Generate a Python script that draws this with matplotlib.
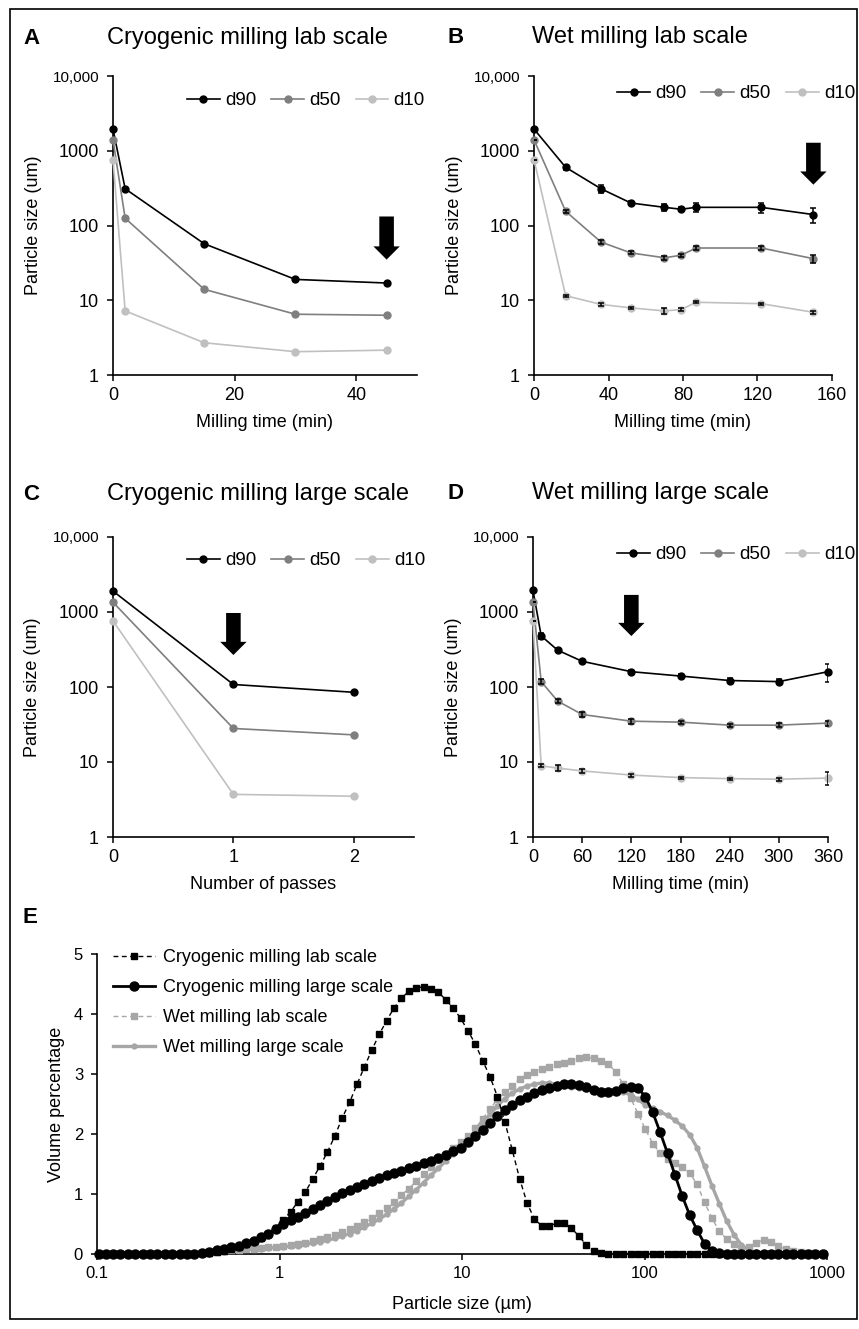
import numpy as np
import matplotlib.pyplot as plt
from matplotlib.patches import Rectangle
from matplotlib.ticker import NullLocator

plt.rcParams['font.family'] = ['Liberation Sans', 'DejaVu Sans']

# ---- panel A: cryogenic milling, lab scale ----
a_time = [0, 2, 15, 30, 45]
a_d90 = [1950, 310, 57, 19, 17]
a_d50 = [1400, 125, 14, 6.5, 6.3]
a_d10 = [760, 7.2, 2.7, 2.05, 2.15]

# ---- panel B: wet milling, lab scale ----
b_time = [0, 17, 36, 52, 70, 79, 87, 122, 150]
b_d90 = [1950, 600, 310, 200, 175, 165, 175, 175, 140]
b_d50 = [1400, 155, 60, 43, 37, 40, 50, 50, 36]
b_d10 = [760, 11.5, 8.8, 7.9, 7.2, 7.5, 9.4, 9.0, 6.9]
b_d90_err = [0, 50, 38, 12, 18, 10, 25, 27, 33]
b_d50_err = [0, 8, 4, 2, 2, 2, 3, 3, 4.5]
b_d10_err = [0, 0.4, 0.3, 0.2, 0.6, 0.3, 0.3, 0.3, 0.3]

# ---- panel C: cryogenic milling, large scale ----
c_passes = [0, 1, 2]
c_d90 = [1900, 108, 85]
c_d50 = [1350, 28, 23]
c_d10 = [760, 3.7, 3.5]

# ---- panel D: wet milling, large scale ----
d_time = [0, 10, 30, 60, 120, 180, 240, 300, 360]
d_d90 = [1950, 480, 310, 220, 160, 140, 122, 118, 160]
d_d50 = [1350, 118, 65, 43, 35, 34, 31, 31, 33]
d_d10 = [760, 8.9, 8.3, 7.6, 6.7, 6.2, 6.0, 5.9, 6.1]
d_d90_err = [0, 40, 20, 12, 10, 8, 8, 8, 45]
d_d50_err = [0, 10, 4, 3, 2.5, 1.5, 1.5, 2, 2.5]
d_d10_err = [0, 0.4, 0.7, 0.5, 0.3, 0.2, 0.2, 0.3, 1.2]

# arrows marking the selected condition (x, top, tip)
arrow_x = [45, 150, 1, 120]
arrow_top = [132, 1280, 970, 1690]
arrow_tip = [35, 352, 267, 478]

# ---- panel E: size distributions (instrument size classes, um) ----
sizes = [0.102, 0.112, 0.122, 0.134, 0.148, 0.162, 0.178, 0.195, 0.214, 0.235,
         0.258, 0.284, 0.311, 0.342,
         0.375, 0.412, 0.452, 0.496, 0.545, 0.598, 0.657, 0.721, 0.791, 0.869,
         0.953, 1.047, 1.149, 1.261, 1.385, 1.520, 1.669, 1.832, 2.011, 2.208,
         2.423, 2.660, 2.920, 3.206, 3.519, 3.863, 4.241, 4.656, 5.111, 5.611,
         6.159, 6.761, 7.422, 8.148, 8.944, 9.819, 10.78, 11.83, 12.99, 14.26,
         15.65, 17.18, 18.86, 20.71, 22.73, 24.95, 27.39, 30.07, 33.01, 36.24,
         39.78, 43.67, 47.94, 52.62, 57.77, 63.41, 69.61, 76.42, 83.89, 92.09,
         101.1, 111.0, 121.8, 133.7, 146.8, 161.2, 176.8, 194.2, 213.2, 234.1,
         256.9, 282.1, 309.6, 339.9, 373.1, 409.6, 449.7, 493.6, 541.9, 594.9,
         653.0, 716.9, 786.9, 863.9, 948.3]

cryo_lab = [0, 0, 0, 0, 0, 0, 0, 0, 0, 0, 0, 0, 0, 0,
            0.01, 0.02, 0.03, 0.05, 0.08, 0.12, 0.16, 0.21, 0.27, 0.34,
            0.43, 0.57, 0.70, 0.87, 1.03, 1.25, 1.47, 1.70, 1.97, 2.27,
            2.53, 2.83, 3.12, 3.40, 3.66, 3.89, 4.10, 4.26, 4.38, 4.44,
            4.45, 4.42, 4.36, 4.24, 4.10, 3.93, 3.72, 3.50, 3.22, 2.95,
            2.62, 2.20, 1.73, 1.25, 0.85, 0.58, 0.47, 0.47, 0.51, 0.52,
            0.43, 0.30, 0.15, 0.05, 0.01, 0, 0, 0, 0, 0,
            0, 0, 0, 0, 0, 0, 0, 0, 0, 0,
            0, 0, 0, 0, 0, 0, 0, 0, 0, 0,
            0, 0, 0, 0, 0]

cryo_large = [0, 0, 0, 0, 0, 0, 0, 0, 0, 0, 0, 0, 0, 0,
              0.02, 0.04, 0.06, 0.08, 0.11, 0.14, 0.18, 0.22, 0.28, 0.34,
              0.42, 0.50, 0.56, 0.62, 0.69, 0.75, 0.82, 0.89, 0.95, 1.01,
              1.07, 1.12, 1.17, 1.22, 1.27, 1.31, 1.35, 1.39, 1.43, 1.47,
              1.51, 1.55, 1.60, 1.65, 1.71, 1.77, 1.87, 1.96, 2.07, 2.18,
              2.30, 2.40, 2.49, 2.56, 2.62, 2.68, 2.73, 2.77, 2.80, 2.83,
              2.83, 2.81, 2.78, 2.73, 2.70, 2.70, 2.72, 2.77, 2.79, 2.77,
              2.62, 2.36, 2.03, 1.68, 1.32, 0.96, 0.65, 0.40, 0.17, 0.05,
              0.01, 0, 0, 0, 0, 0, 0, 0, 0, 0,
              0, 0, 0, 0, 0]

# wet milling series start at the 0.375 um class
wet_lab = [0.02, 0.03, 0.04, 0.05, 0.06, 0.07, 0.08, 0.09, 0.10, 0.11,
           0.12, 0.13, 0.15, 0.17, 0.19, 0.22, 0.25, 0.28, 0.32, 0.36,
           0.41, 0.47, 0.53, 0.60, 0.68, 0.77, 0.87, 0.98, 1.09, 1.21,
           1.33, 1.45, 1.56, 1.66, 1.76, 1.86, 1.97, 2.10, 2.25, 2.42,
           2.58, 2.70, 2.80, 2.92, 2.99, 3.04, 3.08, 3.12, 3.16, 3.19,
           3.22, 3.26, 3.28, 3.26, 3.21, 3.17, 3.03, 2.83, 2.60, 2.34,
           2.08, 1.84, 1.68, 1.58, 1.51, 1.45, 1.35, 1.16, 0.86, 0.60,
           0.38, 0.25, 0.16, 0.10, 0.11, 0.19, 0.23, 0.20, 0.13, 0.08,
           0.05, 0.03, 0.02, 0.01, 0.01]

wet_large = [0.01, 0.02, 0.03, 0.04, 0.05, 0.06, 0.07, 0.08, 0.09, 0.10,
             0.11, 0.12, 0.13, 0.14, 0.16, 0.18, 0.20, 0.23, 0.26, 0.30,
             0.34, 0.39, 0.45, 0.51, 0.58, 0.66, 0.75, 0.85, 0.96, 1.07,
             1.19, 1.31, 1.43, 1.55, 1.67, 1.79, 1.92, 2.05, 2.19, 2.33,
             2.47, 2.59, 2.68, 2.75, 2.80, 2.83, 2.85, 2.85, 2.83, 2.80,
             2.78, 2.76, 2.75, 2.74, 2.74, 2.74, 2.73, 2.70, 2.65, 2.58,
             2.48, 2.43, 2.37, 2.31, 2.23, 2.13, 1.99, 1.77, 1.46, 1.14,
             0.84, 0.55, 0.32, 0.15, 0.06, 0.03, 0.02, 0.02, 0.01, 0.01,
             0.01, 0.01, 0.01, 0.01, 0.01]

W, H = 859, 1329
fig = plt.figure(figsize=(W / 100, H / 100), dpi=100)


def add_ax(l, t, r, b):
    # axes placed by pixel edges (left, top, right, bottom)
    return fig.add_axes([l / W, 1 - b / H, (r - l) / W, (b - t) / H])


def style_axes(ax):
    for s in ['top', 'right']:
        ax.spines[s].set_visible(False)
    for s in ['left', 'bottom']:
        ax.spines[s].set_linewidth(1.2)
    ax.tick_params(direction='out', length=4, width=1.1, labelsize=13)
    ax.tick_params(axis='y', pad=6)
    ax.tick_params(axis='x', pad=5)


cols = ['black', '#7f7f7f', '#c0c0c0']
names = ['d90', 'd50', 'd10']


def size_panel(ax, x, series, errs, xlim, xticks, xlabel, legpos, ylab_x):
    for vals, col, lab in zip(series, cols, names):
        ax.plot(x, vals, '-o', color=col, lw=1.2, ms=5, label=lab, zorder=3, clip_on=False)
    if errs is not None:
        for vals, e in zip(series, errs):
            ax.errorbar(x, vals, yerr=e, fmt='none', ecolor='black', elinewidth=1.1,
                        capsize=2.5, capthick=1.1, zorder=4)
    ax.set_yscale('log')
    ax.set_ylim(1, 10000)
    ax.set_yticks([1, 10, 100, 1000, 10000])
    ax.set_yticklabels(['1', '10', '100', '1000', '10,000'])
    ax.yaxis.set_minor_locator(NullLocator())
    ax.set_xlim(*xlim)
    ax.set_xticks(xticks)
    style_axes(ax)
    ax.get_yticklabels()[-1].set_fontsize(11)
    ax.set_xlabel(xlabel, fontsize=13)
    ax.xaxis.set_label_coords(0.5, -0.13)
    ax.set_ylabel('Particle size (um)', fontsize=13)
    ax.yaxis.set_label_coords(ylab_x, 0.5)
    ax.yaxis.label.set_verticalalignment('center')
    ax.legend(loc='upper left', bbox_to_anchor=legpos, ncol=3, frameon=False,
              fontsize=13.5, handlelength=1.75, handletextpad=0.28, columnspacing=0.8,
              borderpad=0, borderaxespad=0)


def add_arrow(ax, i):
    ax.annotate('', xy=(arrow_x[i], arrow_tip[i]), xytext=(arrow_x[i], arrow_top[i]),
                arrowprops=dict(arrowstyle='simple,head_length=0.95,head_width=1.9,tail_width=1.05',
                                fc='black', ec='black', lw=0, shrinkA=0, shrinkB=0,
                                mutation_scale=10), zorder=5)


axA = add_ax(113, 76, 417, 375)
size_panel(axA, a_time, [a_d90, a_d50, a_d10], None, (0, 50), [0, 20, 40],
           'Milling time (min)', (0.243, 0.946), -0.263)
add_arrow(axA, 0)

axB = add_ax(534, 76, 832, 375)
size_panel(axB, b_time, [b_d90, b_d50, b_d10], [b_d90_err, b_d50_err, b_d10_err],
           (0, 160), [0, 40, 80, 120, 160], 'Milling time (min)', (0.279, 0.970), -0.268)
add_arrow(axB, 1)

axC = add_ax(113, 537, 414, 837)
size_panel(axC, c_passes, [c_d90, c_d50, c_d10], None, (0, 2.5), [0, 1, 2],
           'Number of passes', (0.246, 0.950), -0.266)
add_arrow(axC, 2)

axD = add_ax(533, 537, 828, 837)
size_panel(axD, d_time, [d_d90, d_d50, d_d10], [d_d90_err, d_d50_err, d_d10_err],
           (0, 360), [0, 60, 120, 180, 240, 300, 360], 'Milling time (min)', (0.285, 0.970), -0.268)
add_arrow(axD, 3)

# ---- panel E ----
axE = add_ax(97, 954, 827, 1254)
grey = '#a6a6a6'
axE.plot(sizes, cryo_lab, color='black', lw=1.0, ls=(0, (3.5, 2.5)), marker='s', ms=4.5,
         label='Cryogenic milling lab scale', zorder=5, clip_on=False)
axE.plot(sizes, cryo_large, color='black', lw=2.0, marker='o', ms=6.5,
         label='Cryogenic milling large scale', zorder=4, clip_on=False)
axE.plot(sizes[14:], wet_lab, color=grey, lw=1.0, ls=(0, (3.5, 2.5)), marker='s', ms=4.5,
         label='Wet milling lab scale', zorder=3, clip_on=False)
axE.plot(sizes[14:], wet_large, color=grey, lw=2.4, marker='o', ms=3.5,
         label='Wet milling large scale', zorder=2, clip_on=False)
axE.set_xscale('log')
axE.set_xlim(0.1, 1000)
axE.set_ylim(0, 5)
axE.set_xticks([0.1, 1, 10, 100, 1000])
axE.set_xticklabels(['0.1', '1', '10', '100', '1000'])
axE.xaxis.set_minor_locator(NullLocator())
axE.set_yticks([0, 1, 2, 3, 4, 5])
style_axes(axE)
axE.tick_params(labelsize=12)
axE.set_xlabel('Particle size (\u00b5m)', fontsize=13)
axE.xaxis.set_label_coords(0.5, -0.14)
axE.set_ylabel('Volume percentage', fontsize=13)
axE.yaxis.set_label_coords(-0.055, 0.5)
axE.yaxis.label.set_verticalalignment('center')
axE.legend(loc='upper left', bbox_to_anchor=(0.022, 1.017), frameon=False, fontsize=13,
           handlelength=2.3, handletextpad=0.45, labelspacing=0.72, borderpad=0, borderaxespad=0)

# ---- titles and panel letters ----
titles = [('A', 23, 44, 'Cryogenic milling lab scale', 107),
          ('B', 448, 43, 'Wet milling lab scale', 532),
          ('C', 23, 500, 'Cryogenic milling large scale', 107),
          ('D', 448, 499, 'Wet milling large scale', 532)]
for letter, lx, by, title, tx in titles:
    fig.text(lx / W, 1 - by / H, letter, fontsize=16, fontweight='bold', va='baseline')
    fig.text(tx / W, 1 - by / H, title, fontsize=17, va='baseline')
fig.text(23 / W, 1 - 923 / H, 'E', fontsize=16, fontweight='bold', va='baseline')

# outer frame
fig.patches.append(Rectangle((10 / W, 1 - 1319 / H), 847 / W, 1310 / H,
                             transform=fig.transFigure, fill=False, ec='black', lw=1.2))

fig.savefig('out.png', dpi=100)
